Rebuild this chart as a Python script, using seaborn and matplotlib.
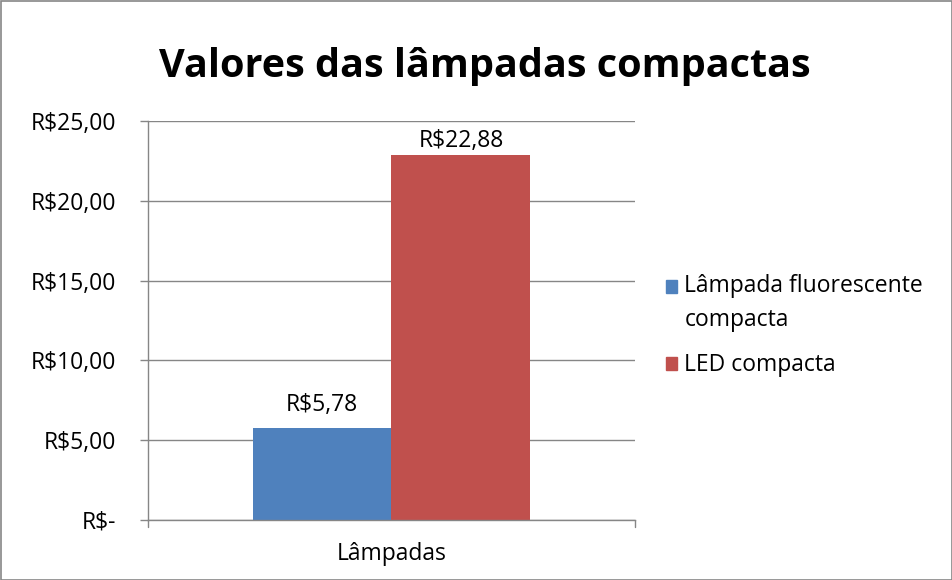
import matplotlib
matplotlib.use("Agg")
import matplotlib.pyplot as plt
import seaborn as sns
import pandas as pd
from matplotlib.patches import Rectangle

categories = ["Lâmpadas"]
series = ["Lâmpada fluorescente\ncompacta", "LED compacta"]
values = [5.78, 22.88]
value_labels = ["R$5,78", "R$22,88"]
yticks = [0, 5, 10, 15, 20, 25]
ytick_labels = ["R$-", "R$5,00", "R$10,00", "R$15,00", "R$20,00", "R$25,00"]
title = "Valores das lâmpadas compactas"
colors = ["#4F81BD", "#C0504D"]

sns.set_theme(style="white")
plt.rcParams['font.family'] = ['Open Sans', 'DejaVu Sans']
plt.rcParams['text.color'] = 'black'
plt.rcParams['xtick.color'] = 'black'
plt.rcParams['ytick.color'] = 'black'

FS = 16.5

df = pd.DataFrame({"cat": categories * len(series), "serie": series, "valor": values})

fig = plt.figure(figsize=(9.53, 5.80), dpi=100)
ax = fig.add_axes([148/953, 1-520/580, (635-148)/953, (520-121)/580])

sns.barplot(data=df, x="cat", y="valor", hue="serie", palette=colors,
            width=0.57, ax=ax, saturation=1, legend=True, linewidth=0)

ax.set_xlim(-0.5, 0.5)
ax.set_ylim(0, 25)
ax.set_yticks(yticks)
ax.set_yticklabels(ytick_labels, fontsize=FS, color="black")
ax.set_xticks([0])
ax.set_xticklabels(categories, fontsize=FS, color="black")
ax.set_xlabel("")
ax.set_ylabel("")
ax.yaxis.grid(True, color="#868686", linewidth=1)
ax.set_axisbelow(True)
for s in ["top", "right"]:
    ax.spines[s].set_visible(False)
for s in ["left", "bottom"]:
    ax.spines[s].set_color("#868686")
    ax.spines[s].set_linewidth(1)
ax.tick_params(axis="y", which="both", left=True, length=6, color="#868686", width=1, pad=17)
ax.tick_params(axis="x", bottom=False, pad=10)
ax.plot([-0.5, -0.5], [0, -0.45], color="#868686", lw=1, clip_on=False)
ax.plot([0.5, 0.5], [0, -0.45], color="#868686", lw=1, clip_on=False)

pads = [8, 1.5]
for cont, lab, p in zip(ax.containers, value_labels, pads):
    ax.bar_label(cont, labels=[lab], fontsize=FS, padding=p, color="black")

ax.legend_.remove()
handles = [Rectangle((0, 0), 1, 1, color=c) for c in colors]
leg = fig.legend(handles, series, loc="upper left", bbox_to_anchor=(645/953, 1-253/580),
                 frameon=False, fontsize=FS, handlelength=0.5, handleheight=0.5,
                 handletextpad=0.32, labelspacing=0.95, labelcolor="black")
for t in leg.get_texts():
    t.set_linespacing(1.55)
# align the first handle with the first line of its two-line label
h0 = leg.legend_handles[0]
h0.set_y(h0.get_y() + 12.5)

fig.text(485/953, 1-67/580, title, ha="center", va="center", fontsize=28.5,
         fontweight="bold", color="black")

fig.patches.append(Rectangle((0.5/953, 0.5/580), 1-1/953, 1-1/580, transform=fig.transFigure,
                             fill=False, edgecolor="#868686", linewidth=1.2))

fig.savefig("out.png", dpi=100)
